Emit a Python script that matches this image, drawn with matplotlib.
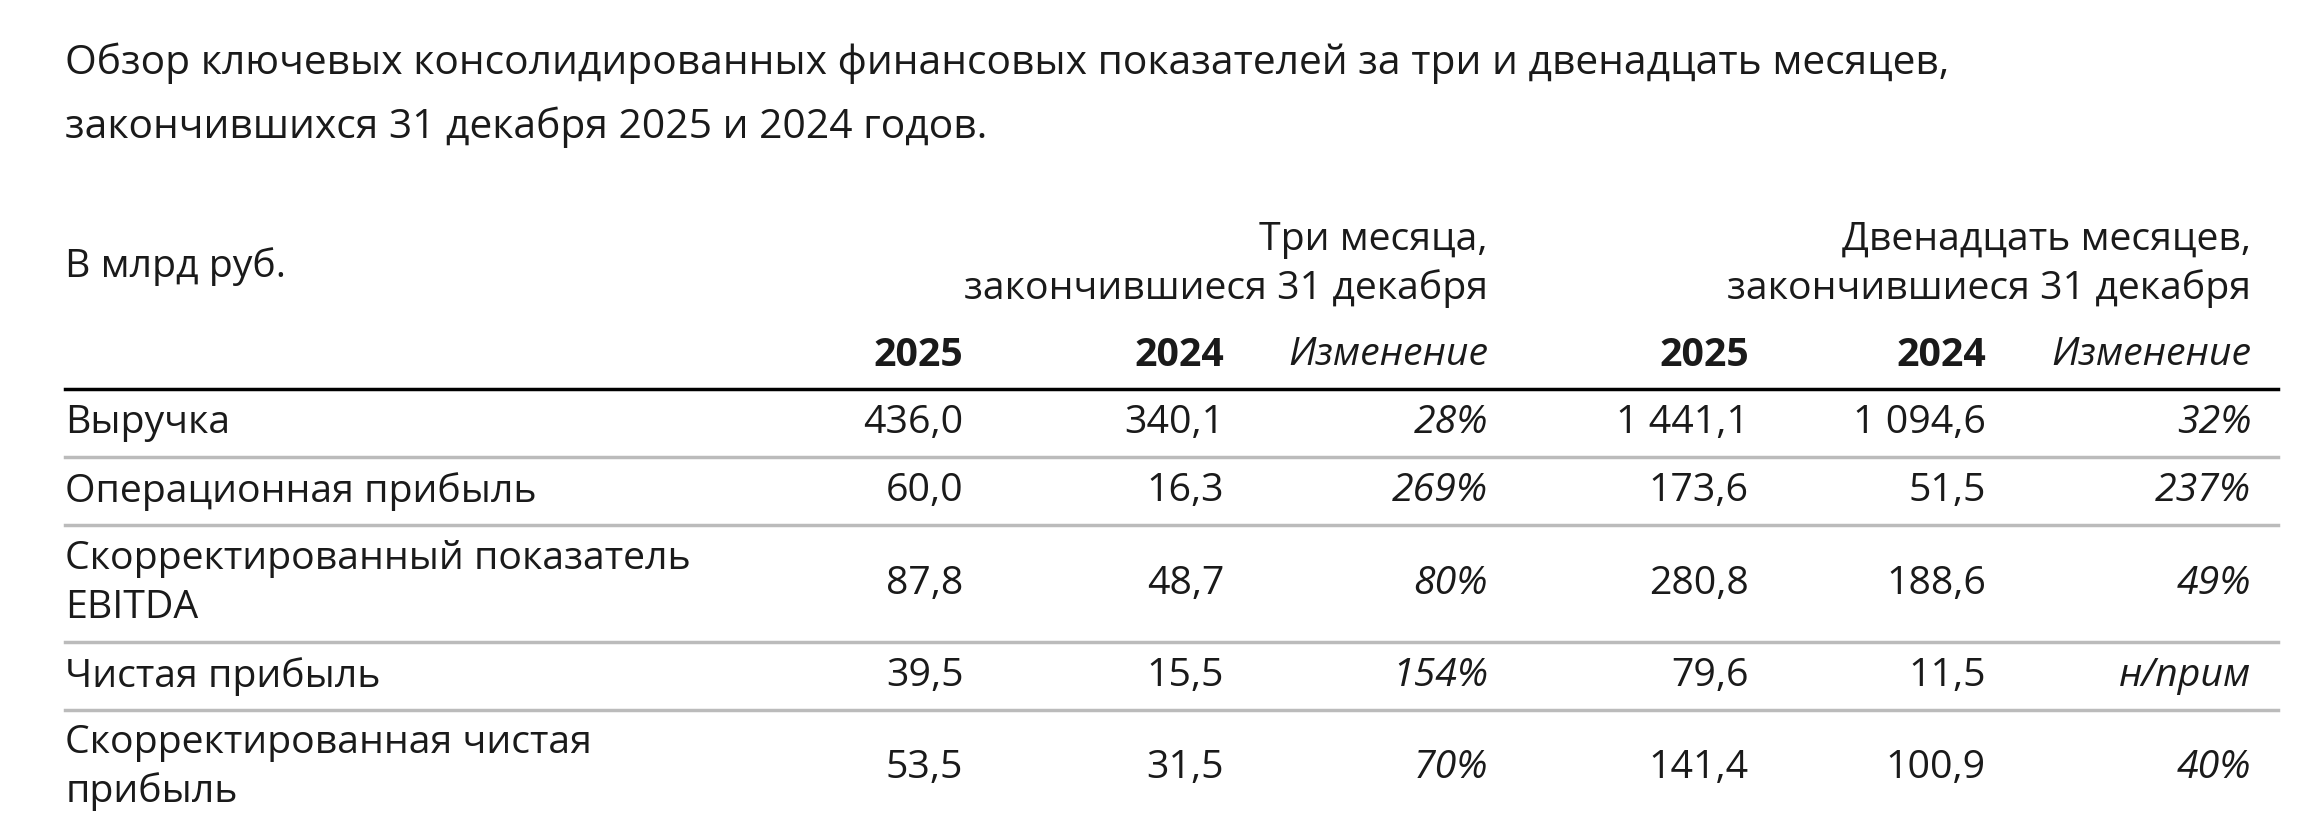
import matplotlib
matplotlib.use("Agg")
import matplotlib.pyplot as plt

title = ["Обзор ключевых консолидированных финансовых показателей за три и двенадцать месяцев,",
         "закончившихся 31 декабря 2025 и 2024 годов."]
unit = "В млрд руб."
group_headers = [["Три месяца,", "закончившиеся 31 декабря"],
                 ["Двенадцать месяцев,", "закончившиеся 31 декабря"]]
col_headers = ["2025", "2024", "Изменение", "2025", "2024", "Изменение"]
row_labels = [["Выручка"], ["Операционная прибыль"],
              ["Скорректированный показатель", "EBITDA"], ["Чистая прибыль"],
              ["Скорректированная чистая", "прибыль"]]
q_2025 = ["436,0", "60,0", "87,8", "39,5", "53,5"]
q_2024 = ["340,1", "16,3", "48,7", "15,5", "31,5"]
q_chg = ["28%", "269%", "80%", "154%", "70%"]
y_2025 = ["1 441,1", "173,6", "280,8", "79,6", "141,4"]
y_2024 = ["1 094,6", "51,5", "188,6", "11,5", "100,9"]
y_chg = ["32%", "237%", "49%", "н/прим", "40%"]

plt.rcParams['font.family'] = ['Open Sans', 'DejaVu Sans']
fig = plt.figure(figsize=(23.12, 8.39), dpi=100)
ax = fig.add_axes([0, 0, 1, 1])
ax.set_xlim(0, 1560); ax.set_ylim(567, 0); ax.axis('off')
FS = 28.3; TFS = 29.3; C = '#1a1a1a'
L = 44
ax.text(L, 43, title[0], fontsize=TFS, va='center', color=C)
ax.text(L, 86, title[1], fontsize=TFS, va='center', color=C)
ax.text(L, 180, unit, fontsize=FS, va='center', color=C)
for xr, hdr in zip([1004, 1519], group_headers):
    ax.text(xr, 162, hdr[0], fontsize=FS, va='center', ha='right', color=C)
    ax.text(xr, 195, hdr[1], fontsize=FS, va='center', ha='right', color=C)
cols_x = [650, 826, 1004, 1180, 1340, 1519]
for x, h in zip(cols_x, col_headers):
    ital = h == "Изменение"
    ax.text(x, 240, h, fontsize=FS, va='center', ha='right', color=C,
            fontweight='normal' if ital else 'bold', style='italic' if ital else 'normal')
R = 1537
ax.plot([L, R], [263, 263], color='black', lw=2.5)
row_y = [286, 332, 395, 457, 519]
line_y = [309, 355, 434, 480]
for ly in line_y:
    ax.plot([L, R], [ly, ly], color='#bbbbbb', lw=2.5)
cols = [q_2025, q_2024, q_chg, y_2025, y_2024, y_chg]
for i, (y, lab) in enumerate(zip(row_y, row_labels)):
    if len(lab) == 1:
        ax.text(L, y, lab[0], fontsize=FS, va='center', color=C)
    else:
        ax.text(L, y - 17, lab[0], fontsize=FS, va='center', color=C)
        ax.text(L, y + 16, lab[1], fontsize=FS, va='center', color=C)
    for j, (x, col) in enumerate(zip(cols_x, cols)):
        ax.text(x, y, col[i], fontsize=FS, va='center', ha='right', color=C,
                style='italic' if j in (2, 5) else 'normal')
fig.savefig("out.png", dpi=100, facecolor='white')
